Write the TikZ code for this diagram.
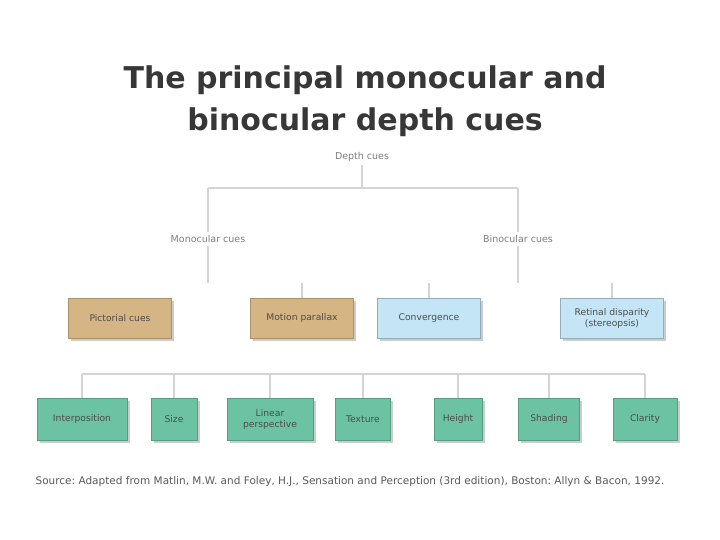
\documentclass[tikz,border=0pt]{standalone}
\usepackage{fontspec}
\setmainfont{DejaVu Sans}
\usepackage{xcolor}
\usetikzlibrary{positioning, shadows}
\definecolor{titlegray}{RGB}{55,55,55}
\definecolor{linegray}{RGB}{212,212,212}
\definecolor{labelgray}{RGB}{125,125,125}
\definecolor{pictan}{RGB}{214,181,133}
\definecolor{binoblue}{RGB}{196,229,246}
\definecolor{cuegreen}{RGB}{108,195,164}
\frenchspacing

\begin{document}
\begin{tikzpicture}[x=1pt, y=-1pt,
    cuelabel/.style={font=\fontsize{9.5}{11}\selectfont, text=labelgray},
    cuebox/.style={rectangle, minimum height=40pt, align=center, inner sep=2pt, font=\fontsize{9.2}{11}\selectfont, text=black!70, drop shadow={shadow xshift=2.5pt, shadow yshift=-2.5pt, opacity=0.4}},
    tanbox/.style={cuebox, draw=pictan!80!black, fill=pictan, minimum width=103pt},
    bluebox/.style={cuebox, draw=binoblue!75!black, fill=binoblue, minimum width=103pt},
    greenbox/.style={cuebox, draw=cuegreen!80!black, fill=cuegreen, minimum height=42pt},
    link/.style={draw=linegray, line width=1.6pt}
]
    \useasboundingbox (0,0) rectangle (720,540);

    \node[font=\fontsize{30}{42}\selectfont\bfseries, text=titlegray, align=center] (title) at (365,101) {The principal monocular and\\binocular depth cues};

    % cue tree
    \node[cuelabel] (depth) at (362,157) {Depth cues};
    \node[cuelabel] (mono) at (208,239) {Monocular cues};
    \node[cuelabel] (bino) at (518,239) {Binocular cues};

    \node[tanbox] (pict) at (120,318) {Pictorial cues};
    \node[tanbox] (motion) at (302,318) {Motion parallax};
    \node[bluebox] (conv) at (429,318) {Convergence};
    \node[bluebox] (retinal) at (612,318) {Retinal disparity\\(stereopsis)};

    \node[greenbox, minimum width=90pt] (interp) at (82,419) {Interposition};
    \node[greenbox, minimum width=46pt] (size) at (174,419) {Size};
    \node[greenbox, minimum width=86pt] (linear) at (270,419) {Linear\\perspective};
    \node[greenbox, minimum width=55pt] (texture) at (363,419) {Texture};
    \node[greenbox, minimum width=48pt] (height) at (458,419) {Height};
    \node[greenbox, minimum width=61pt] (shading) at (549,419) {Shading};
    \node[greenbox, minimum width=64pt] (clarity) at (645,419) {Clarity};

    \node[font=\fontsize{10.5}{12}\selectfont, text=black!65] (source) at (350,482) {Source: Adapted from Matlin, M.W. and Foley, H.J., Sensation and Perception (3rd edition), Boston: Allyn \& Bacon, 1992.};

    % connectors
    \coordinate (split) at (362,188);
    \coordinate (stubtop) at (0,283);
    \coordinate (bar) at (0,374);
    \draw[link] (depth) -- (split);
    \draw[link] (mono |- split) -- (bino |- split);
    \draw[link] (mono |- split) -- (mono);
    \draw[link] (bino |- split) -- (bino);
    \draw[link] (mono) -- (mono |- stubtop);
    \draw[link] (bino) -- (bino |- stubtop);
    \foreach \cue in {motion, conv, retinal}
        \draw[link] (\cue.north) -- (\cue.north |- stubtop);
    \draw[link] (interp.north |- bar) -- (clarity.north |- bar);
    \foreach \cue in {interp, size, linear, texture, height, shading, clarity}
        \draw[link] (\cue.north) -- (\cue.north |- bar);
\end{tikzpicture}
\end{document}
